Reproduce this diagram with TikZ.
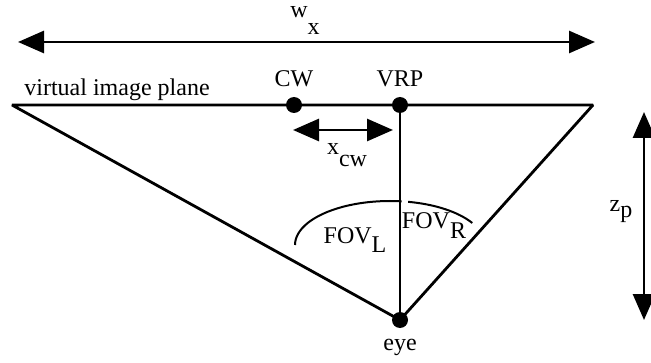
\documentclass[tikz,border=0pt]{standalone}
\usepackage{fontspec}
\setmainfont{Liberation Serif}
\usetikzlibrary{arrows.meta, positioning}

\tikzset{
  dot/.style={circle, fill=black, inner sep=0pt, minimum size=16pt},
  dimarrow/.style={line width=2.8pt, {Triangle[length=26pt,width=22pt]}-{Triangle[length=26pt,width=22pt]}},
  lab/.style={font=\fontsize{24}{28}\selectfont, inner sep=0pt}
}
\newcommand{\low}[2][10pt]{\raisebox{-#1}{#2}}

\begin{document}
\begin{tikzpicture}[x=1pt, y=1pt, line width=2.8pt]
\useasboundingbox (0,0) rectangle (651,362);

% width of the plane
\coordinate (wl) at (18,320);
\coordinate (wr) at (595,320);
\draw[dimarrow] (wl) -- (wr);
\node[lab, anchor=base] (wx) at (305,344) {w\low[17pt]{x}};

% image plane and view triangle
\coordinate (pl) at (12,257);
\coordinate (pr) at (593,257);
\node[dot] (cw) at (294,257) {};
\node[dot] (vrp) at (400,257) {};
\node[dot] (eye) at (400,42) {};
\draw[line join=bevel] (pl) -- (pr) -- (eye.center) -- cycle;
\draw (vrp.center) -- (eye.center);

\node[lab, anchor=base west] (plane) at (23,266) {virtual image plane};
\node[lab, above=7pt of cw] (cwlab) {CW};
\node[lab, above=7pt of vrp] (vrplab) {VRP};
\node[lab, below=8pt of eye] (eyelab) {eye};

% offset of the window
\coordinate (xa) at (293,232);
\coordinate (xb) at (393,232);
\draw[dimarrow] (xa) -- (xb);
\node[lab, anchor=base] (xcw) at (347,207) {x\low[12pt]{cw}};

% field of view
\coordinate (fov) at (390,117);
\draw[line width=2pt] (fov) ++(180:95 and 44) arc[start angle=180, end angle=83, x radius=95, y radius=44];
\draw[line width=2pt] (fov) ++(79:95 and 44) arc[start angle=79, end angle=30, x radius=95, y radius=44];
\node[lab, anchor=base] (fovl) at (355,119) {FOV\low{L}};
\node[lab, anchor=base] (fovr) at (434,133) {FOV\low{R}};

% distance eye to plane
\coordinate (zt) at (644,250);
\coordinate (zb) at (644,42);
\draw[dimarrow] (zt) -- (zb);
\node[lab, anchor=base] (zp) at (621,150) {z\low[6pt]{p}};
\end{tikzpicture}
\end{document}
